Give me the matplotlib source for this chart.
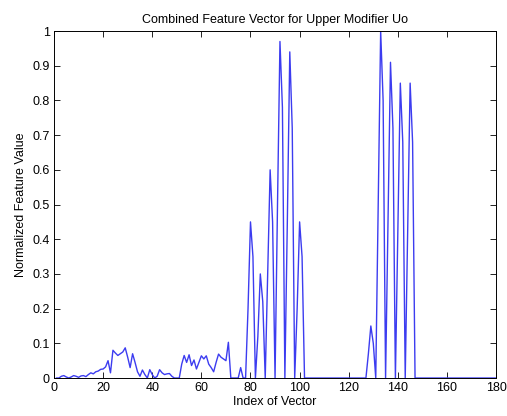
import numpy as np
import matplotlib
matplotlib.use('Agg')
import matplotlib.pyplot as plt

# low-level part of the vector, index 1..78
low_part = [0, 0, 0.005, 0.007, 0.003, 0, 0.003, 0.007, 0.005, 0.002,
            0.006, 0.007, 0.004, 0.01, 0.015, 0.012, 0.018, 0.02, 0.025, 0.026,
            0.032, 0.05, 0.015, 0.08, 0.072, 0.065, 0.07, 0.075, 0.087, 0.06,
            0.03, 0.07, 0.045, 0.018, 0.005, 0.023, 0.01, 0, 0.024, 0.01,
            0, 0.005, 0.024, 0.015, 0.01, 0.012, 0.013, 0.005, 0, 0,
            0, 0.04, 0.065, 0.045, 0.067, 0.036, 0.052, 0.026, 0.045, 0.064,
            0.055, 0.064, 0.04, 0.03, 0.018, 0.045, 0.069, 0.06, 0.055, 0.05,
            0.103, 0, 0, 0, 0, 0.03, 0, 0]

# first spike group, index 79..102
spikes_a = [0.2, 0.45, 0.35, 0,
            0.12, 0.30, 0.22, 0,
            0.3, 0.60, 0.45, 0,
            0.5, 0.97, 0.78, 0,
            0.45, 0.94, 0.72, 0,
            0.2, 0.45, 0.35, 0]

# gap, index 103..127
gap = [0] * 25

# second spike group, index 128..147
spikes_b = [0.07, 0.15, 0.1, 0,
            0.5, 1.0, 0.8, 0,
            0.45, 0.91, 0.72, 0,
            0.42, 0.85, 0.68, 0,
            0.42, 0.85, 0.68, 0]

# tail, index 148..180
tail = [0] * 33

values = np.array(low_part + spikes_a + gap + spikes_b + tail)
index = np.arange(1, len(values) + 1)

plt.rcParams['font.family'] = ['Liberation Sans', 'DejaVu Sans']

fig = plt.figure(figsize=(5.07, 4.16), dpi=100, facecolor='white')
ax = fig.add_axes([0.1065, 0.0913, 0.872, 0.834])

ax.plot(index, values, color='#3c3cf0', lw=1.0)

ax.set_xlim(0, 180)
ax.set_ylim(0, 1)
ax.set_xticks(np.arange(0, 181, 20))
ax.set_yticks(np.arange(0, 1.01, 0.1))
ax.set_yticklabels(['0', '0.1', '0.2', '0.3', '0.4', '0.5', '0.6', '0.7', '0.8', '0.9', '1'])
ax.tick_params(direction='in', top=True, right=True, length=4, width=0.6,
               labelsize=9, pad=3)
for s in ax.spines.values():
    s.set_linewidth(0.7)

ax.set_title('Combined Feature Vector for Upper Modifier Uo', fontsize=9, pad=6)
ax.set_xlabel('Index of Vector', fontsize=9, labelpad=1)
ax.set_ylabel('Normalized Feature Value', fontsize=9, labelpad=4)

fig.savefig('out.png', dpi=100)
